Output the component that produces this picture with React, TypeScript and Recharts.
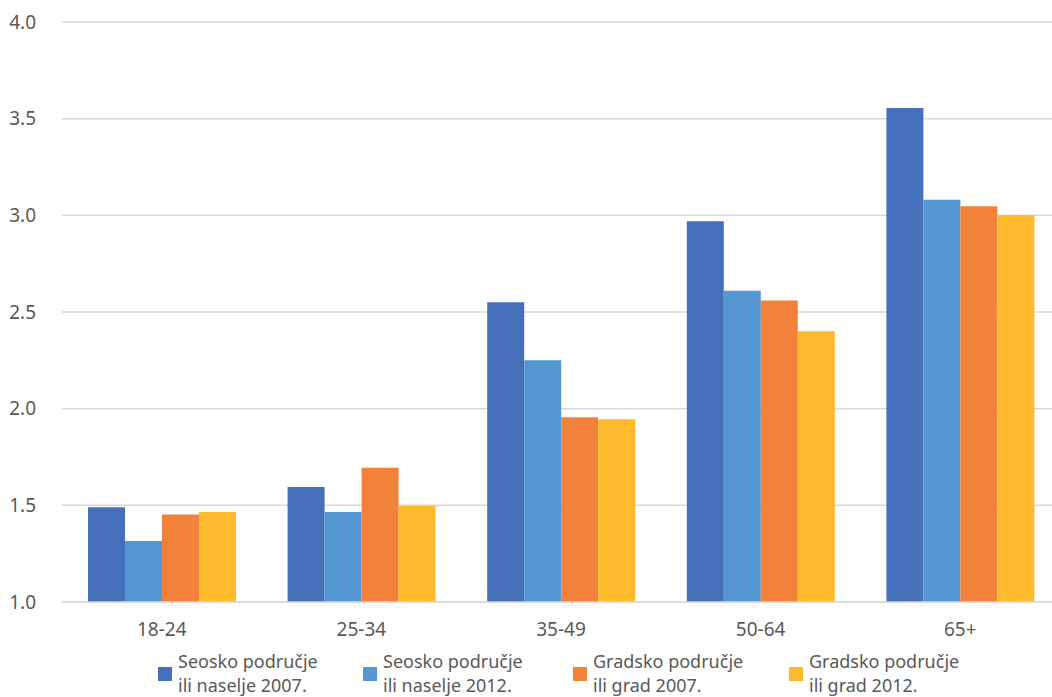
import React from "react";
import {
  BarChart, Bar, XAxis, YAxis, CartesianGrid, Legend,
} from "recharts";

const categories = ["18-24", "25-34", "35-49", "50-64", "65+"];
const seosko2007 = [1.49, 1.595, 2.55, 2.97, 3.555];
const seosko2012 = [1.315, 1.465, 2.25, 2.61, 3.08];
const gradsko2007 = [1.452, 1.695, 1.955, 2.56, 3.047];
const gradsko2012 = [1.466, 1.497, 1.945, 2.4, 3.0];
const yTicks = [1.0, 1.5, 2.0, 2.5, 3.0, 3.5, 4.0];

const series = [
  { key: "s2007", values: seosko2007, color: "#4671BA", lines: ["Seosko područje", "ili naselje 2007."] },
  { key: "s2012", values: seosko2012, color: "#5497D3", lines: ["Seosko područje", "ili naselje 2012."] },
  { key: "g2007", values: gradsko2007, color: "#F2823A", lines: ["Gradsko područje", "ili grad 2007."] },
  { key: "g2012", values: gradsko2012, color: "#FDBA2D", lines: ["Gradsko područje", "ili grad 2012."] },
];

const data = categories.map((c, i) => {
  const row: Record<string, string | number> = { cat: c };
  series.forEach((s) => { row[s.key] = s.values[i]; });
  return row;
});

const FONT = "'Noto Sans', 'Open Sans', sans-serif";
const TEXT = "#595959";
const itemWidths = [205, 210, 216, 220];

const LegendContent = () => (
  <div style={{ display: "flex", paddingLeft: 158, paddingTop: 12, fontFamily: FONT, color: TEXT, fontSize: 18, lineHeight: "24px" }}>
    {series.map((s, i) => (
      <div key={s.key} style={{ display: "flex", alignItems: "center", width: itemWidths[i] }}>
        <div style={{ width: 14, height: 14, background: s.color, marginRight: 6, marginTop: 2 }} />
        <div style={{ whiteSpace: "nowrap" }}>
          <div>{s.lines[0]}</div>
          <div>{s.lines[1]}</div>
        </div>
      </div>
    ))}
  </div>
);

export default function App() {
  return (
    <div style={{ width: 1052, height: 697, overflow: "hidden" }}>
      <style>{"body{margin:0;overflow:hidden;background:#fff}"}</style>
      <BarChart
        width={1075}
        height={705}
        data={data}
        margin={{ top: 22, right: 15, left: 0, bottom: 0 }}
        barCategoryGap={26}
        barGap={0}
      >
        <CartesianGrid vertical={false} stroke="#d9d9d9" strokeWidth={1.5} />
        <XAxis
          dataKey="cat"
          height={35}
          tickLine={false}
          axisLine={{ stroke: "#d9d9d9", strokeWidth: 1.5 }}
          tick={{ fill: TEXT, fontSize: 19, fontFamily: FONT }}
          tickMargin={15}
        />
        <YAxis
          domain={[1, 4]}
          ticks={yTicks}
          width={62}
          tickLine={false}
          axisLine={false}
          tickMargin={20}
          tick={{ fill: TEXT, fontSize: 19, fontFamily: FONT }}
          tickFormatter={(v: number) => v.toFixed(1)}
          allowDataOverflow
        />
        <Legend verticalAlign="bottom" height={68} content={<LegendContent />} />
        {series.map((s) => (
          <Bar key={s.key} dataKey={s.key} fill={s.color} isAnimationActive={false} />
        ))}
      </BarChart>
    </div>
  );
}
